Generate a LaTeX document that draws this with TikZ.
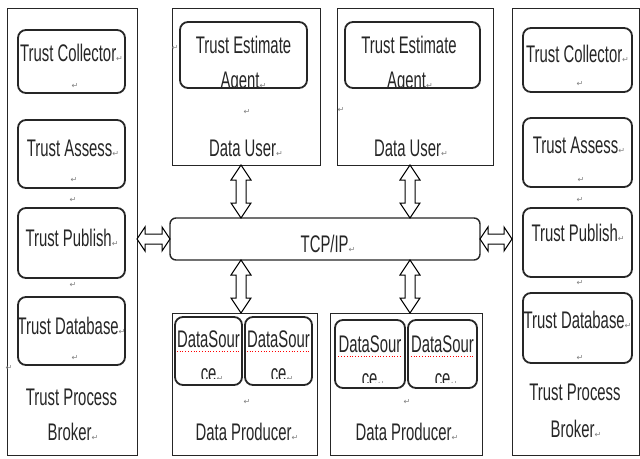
\documentclass[tikz,border=0pt]{standalone}
\usepackage{fontspec}
\setmainfont[FakeStretch=0.62]{Liberation Sans}
\newfontfamily\markfont{DejaVu Sans}
\usetikzlibrary{calc}
\newcommand\pmk{{\markfont\fontsize{8}{8}\selectfont\color{black!50}↵}}
\tikzset{
  outerbox/.style={draw=black!85, line width=0.9pt, outer sep=0pt, inner sep=0pt},
  innerbox/.style={draw=black!85, line width=1.8pt, rounded corners=8pt, outer sep=0pt, inner sep=0pt},
  lbl/.style={inner sep=0pt, anchor=base, font=\fontsize{24}{35}\selectfont, text=black!85},
  pm/.style={inner sep=0pt, font=\markfont\fontsize{8}{8}\selectfont, text=black!50},
  blockarr/.style={draw=black, line width=1pt, fill=white, line join=miter},
  spell/.style={draw=red, dotted, line width=0.8pt},
}
\newcommand\hblockarrow[2]{\draw[blockarr] (#1) -- ($(#1)+(8,-12)$) -- ($(#1)+(8,-5)$) -- ($(#2)+(-8,-5)$) -- ($(#2)+(-8,-12)$) -- (#2) -- ($(#2)+(-8,12)$) -- ($(#2)+(-8,5)$) -- ($(#1)+(8,5)$) -- ($(#1)+(8,12)$) -- cycle;}
\newcommand\vblockarrow[2]{\draw[blockarr] (#1) -- ($(#1)+(-10,15)$) -- ($(#1)+(-5,15)$) -- ($(#2)+(-5,-15)$) -- ($(#2)+(-10,-15)$) -- (#2) -- ($(#2)+(10,-15)$) -- ($(#2)+(5,-15)$) -- ($(#1)+(5,15)$) -- ($(#1)+(10,15)$) -- cycle;}
\begin{document}
\begin{tikzpicture}[x=1pt,y=-1pt]
\useasboundingbox[fill=white] (0,0) rectangle (640,458);

% ---------- left broker ----------
\node[outerbox, minimum width=130pt, minimum height=447pt] (brokerL) at (72,231.5) {};
\node[innerbox, minimum width=107pt, minimum height=63pt] (colL) at (71.5,61.5) {};
\node[innerbox, minimum width=107pt, minimum height=68pt] (assL) at (71.5,154) {};
\node[innerbox, minimum width=107pt, minimum height=70pt] (pubL) at (71.5,243) {};
\node[innerbox, minimum width=107pt, minimum height=68pt] (dbL) at (71.5,331) {};
\node[lbl] (tcolL) at (71.5,61) {Trust Collector\pmk};
\node[lbl] (tassL) at (73,156) {Trust Assess\pmk};
\node[lbl] (tpubL) at (72,246) {Trust Publish\pmk};
\node[lbl] (tdbL) at (71.5,334) {Trust Database\pmk};
\node[lbl] (tprL) at (71.5,405) {Trust Process};
\node[lbl] (tbrL) at (73,440) {Broker\pmk};
\node[pm] (m1) at (75,86) {↵};
\node[pm] (m2) at (74,180) {↵};
\node[pm] (m3) at (73,200) {↵};
\node[pm] (m4) at (73,285) {↵};
\node[pm] (m5) at (75,358) {↵};
\node[pm] (m6) at (9,368) {↵};

% ---------- right broker ----------
\node[outerbox, minimum width=127pt, minimum height=447pt] (brokerR) at (575.5,231.5) {};
\node[innerbox, minimum width=109pt, minimum height=64pt] (colR) at (577.5,60) {};
\node[innerbox, minimum width=109pt, minimum height=69pt] (assR) at (577.5,152.5) {};
\node[innerbox, minimum width=109pt, minimum height=69pt] (pubR) at (577.5,242.5) {};
\node[innerbox, minimum width=109pt, minimum height=70pt] (dbR) at (577.5,328) {};
\node[lbl] (tcolR) at (577.5,62) {Trust Collector\pmk};
\node[lbl] (tassR) at (579,153) {Trust Assess\pmk};
\node[lbl] (tpubR) at (578,241) {Trust Publish\pmk};
\node[lbl] (tdbR) at (577.5,328) {Trust Database\pmk};
\node[lbl] (tprR) at (575,400) {Trust Process};
\node[lbl] (tbrR) at (576,437) {Broker\pmk};
\node[pm] (m7) at (580,84) {↵};
\node[pm] (m8) at (581,180) {↵};
\node[pm] (m9) at (580,200) {↵};
\node[pm] (m10) at (580,283) {↵};
\node[pm] (m11) at (580,358) {↵};

% ---------- data users ----------
\node[outerbox, minimum width=148pt, minimum height=157pt] (du1) at (246,86.5) {};
\node[innerbox, minimum width=127pt, minimum height=66pt] (te1) at (243.5,55) {};
\node[lbl] (tte1) at (243.5,53) {Trust Estimate};
\begin{scope}
  \clip (te1.north west) rectangle ($(te1.south east)+(0,-2)$);
  \node[lbl] (tag1) at (243.5,88) {Agent\pmk};
\end{scope}
\node[lbl] (tdu1) at (246,156) {Data User\pmk};
\node[pm] (m12) at (247,112) {↵};
\node[pm] (m13) at (175,48) {↵};

\node[outerbox, minimum width=156pt, minimum height=157pt] (du2) at (415,86.5) {};
\node[innerbox, minimum width=135pt, minimum height=66pt] (te2) at (412.5,55) {};
\node[lbl] (tte2) at (409,53) {Trust Estimate};
\begin{scope}
  \clip (te2.north west) rectangle ($(te2.south east)+(0,-2)$);
  \node[lbl] (tag2) at (410,88) {Agent\pmk};
\end{scope}
\node[lbl] (tdu2) at (411,156) {Data User\pmk};
\node[pm] (m14) at (341,110) {↵};

% ---------- TCP/IP ----------
\node[innerbox, line width=1.4pt, rounded corners=6pt, minimum width=310pt, minimum height=42pt] (tcp) at (325,239) {};
\node[lbl] (ttcp) at (328,252) {TCP/IP\pmk};

% ---------- data producers ----------
\node[outerbox, minimum width=145pt, minimum height=142pt] (dp1) at (244.5,384) {};
\node[innerbox, minimum width=67pt, minimum height=68pt] (ds1a) at (208.5,351) {};
\node[innerbox, minimum width=67pt, minimum height=68pt] (ds1b) at (278.5,351) {};
\node[lbl] (tds1a) at (208.5,347) {DataSour};
\node[lbl] (tds1b) at (278.5,347) {DataSour};
\draw[spell] ($(tds1a.base west)+(0,4)$) -- ($(tds1a.base east)+(0,4)$);
\draw[spell] ($(tds1b.base west)+(0,4)$) -- ($(tds1b.base east)+(0,4)$);
\begin{scope}
  \clip (ds1a.north west) rectangle ($(ds1b.south east)+(0,-7)$);
  \node[lbl] (tce1a) at (212,381) {ce\pmk};
  \node[lbl] (tce1b) at (282,381) {ce\pmk};
\end{scope}
\node[lbl] (tdp1) at (247,440) {Data Producer\pmk};
\node[pm] (m15) at (247,402) {↵};

\node[outerbox, minimum width=152pt, minimum height=142pt] (dp2) at (406,384) {};
\node[innerbox, minimum width=70pt, minimum height=68pt] (ds2a) at (370,354) {};
\node[innerbox, minimum width=69pt, minimum height=68pt] (ds2b) at (442.5,354) {};
\node[lbl] (tds2a) at (370,352) {DataSour};
\node[lbl] (tds2b) at (442.5,352) {DataSour};
\draw[spell] ($(tds2a.base west)+(0,4)$) -- ($(tds2a.base east)+(0,4)$);
\draw[spell] ($(tds2b.base west)+(0,4)$) -- ($(tds2b.base east)+(0,4)$);
\begin{scope}
  \clip (ds2a.north west) rectangle ($(ds2b.south east)+(0,-6)$);
  \node[lbl] (tce2a) at (373,386) {ce\pmk};
  \node[lbl] (tce2b) at (446,386) {ce\pmk};
\end{scope}
\node[lbl] (tdp2) at (407,440) {Data Producer\pmk};
\node[pm] (m16) at (407,402) {↵};

% ---------- arrows ----------
\coordinate (hl1) at (brokerL.east |- tcp.west);
\coordinate (hr2) at (brokerR.west |- tcp.east);
\hblockarrow{hl1}{tcp.west}
\hblockarrow{tcp.east}{hr2}

\coordinate (v1t) at ($(du1.south)+(-5,0)$);
\coordinate (v1b) at (v1t |- tcp.north);
\coordinate (v2t) at ($(du2.south)+(-5,0)$);
\coordinate (v2b) at (v2t |- tcp.north);
\coordinate (v3t) at (v1t |- tcp.south);
\coordinate (v3b) at (v1t |- dp1.north);
\coordinate (v4t) at (v2t |- tcp.south);
\coordinate (v4b) at (v2t |- dp2.north);
\vblockarrow{v1t}{v1b}
\vblockarrow{v2t}{v2b}
\vblockarrow{v3t}{v3b}
\vblockarrow{v4t}{v4b}
\end{tikzpicture}
\end{document}
